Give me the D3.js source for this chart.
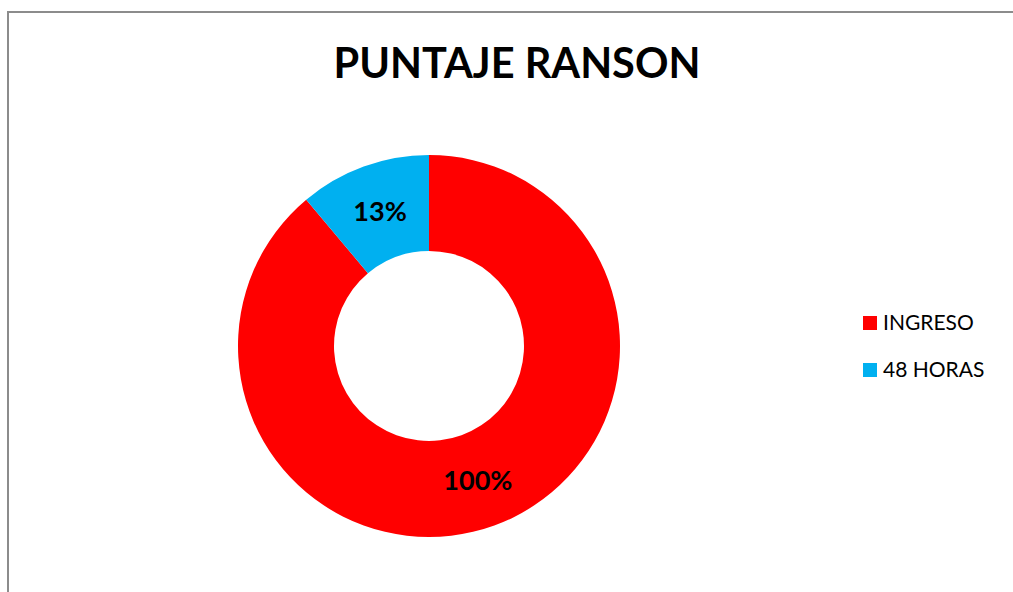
<!DOCTYPE html>
<html>
<head>
<meta charset="utf-8">
<script src="https://cdn.jsdelivr.net/npm/d3@7"></script>
<style>
  body { margin: 0; background: #fff; }
  text { font-family: Lato, "Open Sans", sans-serif; }
</style>
</head>
<body>
<svg id="chart"></svg>
<script>
// Chart data
const categories = ['INGRESO', '48 HORAS'];
const values = [100, 12.5];
const colors = ['#ff0000', '#00b0f0'];
const chartTitle = 'PUNTAJE RANSON';

const width = 1013, height = 592;
const cx = 429, cy = 346;
const outerR = 191, innerR = 95;

const svg = d3.select('#chart')
  .attr('width', width)
  .attr('height', height);

// Chart frame (runs off right and bottom edges)
svg.append('rect')
  .attr('x', 8)
  .attr('y', 12)
  .attr('width', 1100)
  .attr('height', 700)
  .attr('fill', '#fff')
  .attr('stroke', '#8c8c8c')
  .attr('stroke-width', 2);

// Title
svg.append('text')
  .attr('x', 517)
  .attr('y', 78)
  .attr('text-anchor', 'middle')
  .attr('font-size', 41.5)
  .attr('font-weight', 'bold')
  .attr('fill', '#000')
  .text(chartTitle);

const colorScale = d3.scaleOrdinal()
  .domain(categories)
  .range(colors);

// Excel draws the first slice clockwise from 12 o'clock
const pie = d3.pie()
  .sort(null)
  .value(d => d.value);

const pieData = pie(categories.map((c, i) => ({category: c, value: values[i]})));

const arc = d3.arc()
  .innerRadius(innerR)
  .outerRadius(outerR);

const chartArea = svg.append('g')
  .attr('transform', `translate(${cx},${cy})`);

chartArea.selectAll('.wedge')
  .data(pieData)
  .join('path')
    .attr('class', 'wedge')
    .attr('fill', d => colorScale(d.data.category))
    .attr('d', arc);

// Data labels at slice centroids
chartArea.selectAll('.slice-label')
  .data(pieData)
  .join('text')
    .attr('class', 'slice-label')
    .attr('transform', d => `translate(${arc.centroid(d)})`)
    .attr('text-anchor', 'middle')
    .attr('dy', '0.36em')
    .attr('font-size', 27)
    .attr('font-weight', 'bold')
    .attr('fill', '#000')
    .text(d => Math.round(d.data.value) + '%');

// Legend
const legend = svg.append('g')
  .attr('transform', 'translate(863,316)');

const entry = legend.selectAll('.legend-entry')
  .data(categories)
  .join('g')
    .attr('class', 'legend-entry')
    .attr('transform', (d, i) => `translate(0,${i * 47})`);

entry.append('rect')
  .attr('width', 14)
  .attr('height', 14)
  .attr('fill', d => colorScale(d));

entry.append('text')
  .attr('x', 20)
  .attr('y', 14)
  .attr('font-size', 21)
  .attr('fill', '#000')
  .text(d => d);
</script>
</body>
</html>
